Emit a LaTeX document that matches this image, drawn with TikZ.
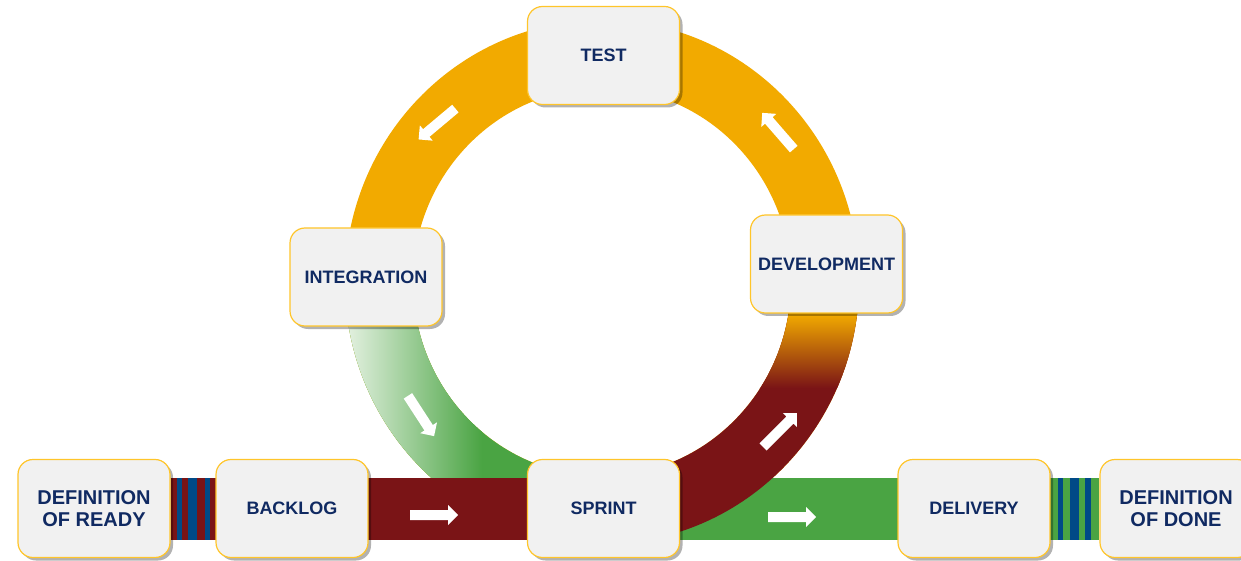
\documentclass[tikz,border=0pt]{standalone}
\usepackage{fontspec}
\setmainfont{Liberation Sans}
\usetikzlibrary{shadows}
\definecolor{ringorange}{HTML}{F2AA00}
\definecolor{darkred}{HTML}{7A1416}
\definecolor{bargreen}{HTML}{4AA443}
\definecolor{lightgreen}{HTML}{E6F2E3}
\definecolor{stripeblue}{HTML}{004A87}
\definecolor{boxfill}{HTML}{F1F1F1}
\definecolor{boxborder}{HTML}{FFC52A}
\definecolor{navy}{HTML}{102A62}
\pgfdeclarelayer{background}
\pgfsetlayers{background,main}
\begin{document}
\begin{tikzpicture}[x=1pt,y=1pt,
  stagebox/.style={rectangle, rounded corners=15pt, minimum width=152pt, minimum height=98pt,
    fill=boxfill, draw=boxborder, line width=1.2pt,
    drop shadow={shadow xshift=3pt, shadow yshift=-3pt, fill=black, opacity=0.3},
    font=\fontsize{18}{21.5}\selectfont\bfseries, text=navy, align=center, inner sep=0pt},
  bigtext/.style={font=\fontsize{20}{22}\selectfont\bfseries},
  bar/.style={line width=62pt},
  warrow/.pic={\fill[white] (-24,-5) -- (14,-5) -- (14,-10) -- (24,0) -- (14,10) -- (14,5) -- (-24,5) -- cycle;}
]
\useasboundingbox (0,0) rectangle (1241,560);
\clip (0,0) rectangle (1241,560);

% stage boxes
\node[stagebox] (test) at (603.5,504.5) {TEST};
\node[stagebox] (integration) at (366,283) {INTEGRATION};
\node[stagebox] (development) at (826.5,296) {DEVELOPMENT};
\node[stagebox, bigtext] (dor) at (94,51.5) {DEFINITION\\OF READY};
\node[stagebox] (backlog) at (292,51.5) {BACKLOG};
\node[stagebox] (sprint) at (603.5,51.5) {SPRINT};
\node[stagebox] (delivery) at (974,51.5) {DELIVERY};
\node[stagebox, bigtext] (dod) at (1176,51.5) {DEFINITION\\OF DONE};

\begin{pgfonlayer}{background}
  % orange ring (whole)
  \fill[ringorange, even odd rule] (602,278) ellipse [x radius=257, y radius=262]
                                  (602,278) ellipse [x radius=189, y radius=194];
  % lower left: green gradient
  \begin{scope}
    \clip (345,278) arc[start angle=180, end angle=270, x radius=257, y radius=262]
          -- (602,84) arc[start angle=270, end angle=180, x radius=189, y radius=194] -- cycle;
    \fill[bargreen] (330,0) rectangle (610,290);
    \shade[left color=lightgreen, right color=bargreen] (344,0) rectangle (482,290);
  \end{scope}
  % bars
  \draw[bar, bargreen] (sprint) -- (dod);
  \draw[bar, darkred] (dor) -- (sprint);
  % lower right: orange to dark red
  \begin{scope}
    \clip (602,16) arc[start angle=270, end angle=360, x radius=257, y radius=262]
          -- (791,278) arc[start angle=360, end angle=270, x radius=189, y radius=194] -- cycle;
    \fill[darkred] (590,0) rectangle (870,290);
    \fill[ringorange] (590,246) rectangle (870,290);
    \shade[top color=ringorange, bottom color=darkred] (590,172) rectangle (870,246);
  \end{scope}
  % stripes between Definition of Ready and Backlog
  \fill[stripeblue] (176.7,20) rectangle (182.3,82);
  \fill[stripeblue] (187.7,20) rectangle (197.3,82);
  \fill[stripeblue] (205,20) rectangle (210,82);
  % stripes between Delivery and Definition of Done
  \fill[stripeblue] (1057.7,20) rectangle (1063,82);
  \fill[stripeblue] (1070,20) rectangle (1079,82);
  \fill[stripeblue] (1085,20) rectangle (1091,82);
  % white arrows
  \pic[rotate=220] at (437,436) {warrow};
  \pic[rotate=131] at (778,429) {warrow};
  \pic[rotate=-57] at (421,144) {warrow};
  \pic[rotate=45] at (780,130) {warrow};
  \pic at (434,45) {warrow};
  \pic at (792,43) {warrow};
\end{pgfonlayer}
\end{tikzpicture}
\end{document}
